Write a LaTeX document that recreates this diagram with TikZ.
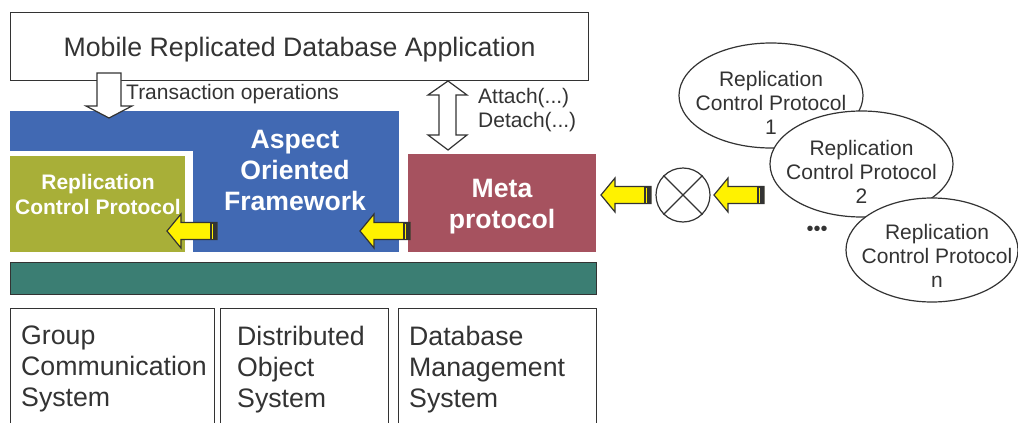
\documentclass[tikz,border=0pt]{standalone}
\usepackage{fontspec}
\setmainfont{Liberation Sans}
\usepackage{tikz}
\usetikzlibrary{shapes.geometric, positioning, calc}
\definecolor{txtgray}{HTML}{333333}
\definecolor{aofblue}{HTML}{4169B3}
\definecolor{rcpgreen}{HTML}{A8AF38}
\definecolor{metared}{HTML}{A6525F}
\definecolor{busteal}{HTML}{3B7E73}
\definecolor{flowyellow}{HTML}{FFF200}

\tikzset{
  box/.style={draw=txtgray, line width=1.2pt, inner sep=0pt, anchor=north west},
  block/.style={inner sep=0pt, anchor=north west},
  plaintxt/.style={text=txtgray, inner sep=0pt, font=\fontsize{26.7}{31}\selectfont},
  lowtxt/.style={plaintxt, align=left, anchor=north west},
  smalltxt/.style={text=txtgray, inner sep=0pt, align=center,
                   font=\fontsize{21}{24}\selectfont},
  boldtxt/.style={text=white, inner sep=0pt, align=center,
                  font=\fontsize{26.6}{31}\selectfont\bfseries},
  rcptxt/.style={text=white, inner sep=0pt, align=center,
                 font=\fontsize{21}{25}\selectfont\bfseries},
  hollow/.style={draw=txtgray, fill=white, line width=1.2pt, line join=miter},
  rcpnode/.style={ellipse, draw=txtgray, fill=white, line width=1.2pt, inner sep=0pt}
}

\begin{document}
\begin{tikzpicture}[x=1pt, y=-1pt]
\useasboundingbox (0,0) rectangle (1018,423);
\clip (0,0) rectangle (1018,423);

% application layer
\node[box, minimum width=578pt, minimum height=68pt] (app) at (10,12) {};
\node[plaintxt] at ([yshift=-3pt]app.center) {Mobile Replicated Database Application};

% framework with the protocol slot
\node[block, fill=aofblue, minimum width=389pt, minimum height=141pt] (aof) at (10,111) {};
\fill[white] (10,151) rectangle (193,252);
\node[block, fill=rcpgreen, minimum width=175pt, minimum height=96pt] (rcp) at (10,156) {};
\node[rcptxt] (rcplbl) at (98,194) {Replication\\Control Protocol};
\node[boldtxt] (aoflbl) at (295,170) {Aspect\\Oriented\\Framework};
\node[block, fill=metared, minimum width=188pt, minimum height=98pt] (meta) at (408,154) {};
\node[boldtxt] (metalbl) at (502,207) {Meta\\protocol};

% bus
\node[box, fill=busteal, minimum width=586pt, minimum height=32pt] (bus) at (10,262) {};

% lower layer
\node[box, minimum width=204pt, minimum height=130pt] (gcs) at (10,308) {};
\node[box, minimum width=168pt, minimum height=130pt] (dos) at (220,308) {};
\node[box, minimum width=198pt, minimum height=130pt] (dbms) at (398,308) {};
\node[lowtxt] at ([xshift=11pt, yshift=-18pt]gcs.north west) {Group\\Communication\\System};
\node[lowtxt] at ([xshift=17pt, yshift=-18pt]dos.north west) {Distributed\\Object\\System};
\node[lowtxt] at ([xshift=11pt, yshift=-18pt]dbms.north west) {Database\\Management\\System};

% calls from the application
\draw[hollow] (97,73) -- (97,106) -- (86,106) -- (109,118) -- (132,106)
  -- (121,106) -- (121,73) -- cycle;
\node[smalltxt, anchor=west] (txop) at (126,94) {Transaction operations};
\draw[hollow] (448,81) -- (467,95) -- (456,95) -- (456,135) -- (467,135)
  -- (448,150) -- (428,135) -- (439,135) -- (439,95) -- (428,95) -- cycle;
\node[smalltxt, anchor=west, align=left] (attach) at (478,110) {Attach(...)\\Detach(...)};

% protocol instances
\node[rcpnode, minimum width=184pt, minimum height=105pt] (rcpA) at (771,95.5) {};
\node[smalltxt] at ([yshift=-7.5pt]rcpA.center) {Replication\\Control Protocol\\1};
\node[rcpnode, minimum width=183pt, minimum height=106pt] (rcpB) at (861.5,164) {};
\node[smalltxt] at ([yshift=-8pt]rcpB.center) {Replication\\Control Protocol\\2};
\node[rcpnode, minimum width=172pt, minimum height=104pt] (rcpN) at (932,250) {};
\node[smalltxt] at ([xshift=5pt, yshift=-6pt]rcpN.center) {Replication\\Control Protocol\\n};
\node[text=txtgray, inner sep=0pt, font=\fontsize{20}{20}\selectfont] (dots) at (817,231) {•••};

% selector
\node[circle, draw=txtgray, fill=white, line width=1.2pt, minimum size=54pt, inner sep=0pt] (mux) at (683,195) {};
\draw[txtgray, line width=1.2pt] (mux.north west) -- (mux.south east);
\draw[txtgray, line width=1.2pt] (mux.north east) -- (mux.south west);

% yellow flow arrows
\foreach \tx/\ty in {167/231, 360/231, 601/195, 714/195} {
  \draw[fill=flowyellow, draw=txtgray, line width=1.2pt]
    (\tx,\ty) -- ++(14,-17) -- ++(0,8.5) -- ++(36,0) -- ++(0,17)
    -- ++(-36,0) -- ++(0,8.5) -- cycle;
  \fill[txtgray] (\tx+43,\ty-8.5) rectangle (\tx+50,\ty+8.5);
  \draw[flowyellow, line width=1pt] (\tx+45.5,\ty-7.5) -- (\tx+45.5,\ty+7.5);
}
\end{tikzpicture}
\end{document}
